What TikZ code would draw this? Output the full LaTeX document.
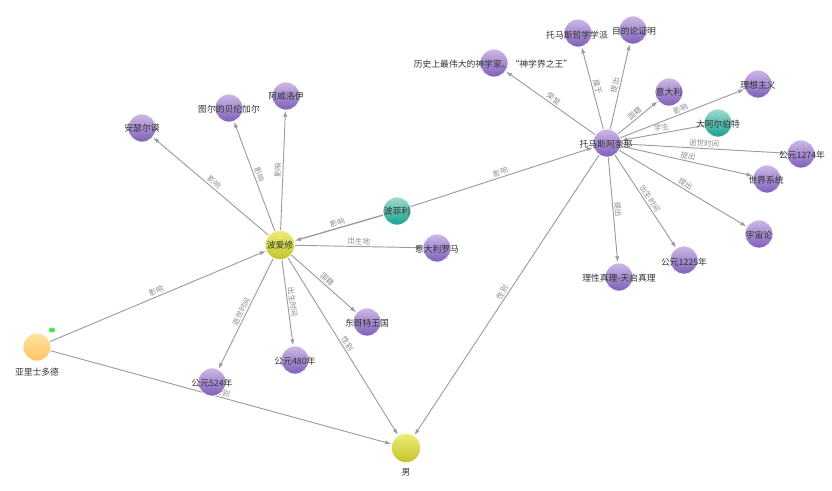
\documentclass[tikz,border=0pt]{standalone}
\usepackage{fontspec}
\setmainfont{Noto Sans CJK SC}
\usetikzlibrary{arrows.meta}
\definecolor{pTop}{HTML}{CDB9E6}
\definecolor{pBot}{HTML}{7E5FB9}
\definecolor{tTop}{HTML}{A2DACE}
\definecolor{tBot}{HTML}{17A08E}
\definecolor{yTop}{HTML}{EEEE78}
\definecolor{yBot}{HTML}{C2C22A}
\definecolor{oTop}{HTML}{FFE3A4}
\definecolor{oBot}{HTML}{FFC462}
\definecolor{eGray}{HTML}{9C9C9C}
\definecolor{lGray}{HTML}{8C8C8C}
\definecolor{txt}{HTML}{333333}
\definecolor{gTag}{HTML}{3FE03F}
\pgfdeclarelayer{edges}
\pgfsetlayers{edges,main}
\begin{document}
\begin{tikzpicture}[x=0.75pt,y=-0.75pt,
  base/.style={circle, minimum size=21pt, inner sep=0pt, draw=white, line width=0.5pt},
  pur/.style={base, top color=pTop, bottom color=pBot},
  teal/.style={base, top color=tTop, bottom color=tBot},
  yel/.style={base, minimum size=22pt, top color=yTop, bottom color=yBot},
  ora/.style={base, top color=oTop, bottom color=oBot},
  ntext/.style={font=\fontsize{6.6pt}{8pt}\selectfont, text=txt, inner sep=0pt},
  rel/.style={draw=eGray, line width=0.7pt, -{Latex[length=4.5pt,width=3.2pt]}, shorten >=0.3pt},
  elab/.style={sloped, above, midway, font=\fontsize{5.6pt}{6.5pt}\selectfont, text=lGray, inner sep=1pt}
]
\useasboundingbox (0,0) rectangle (832,490);

% nodes
\node[ora] (ari) at (37,347) {};
\node[yel] (boe) at (280,245) {};
\node[yel] (man) at (406,448) {};
\node[teal] (por) at (397,211) {};
\node[teal] (alb) at (718,123) {};
\node[pur] (tho) at (607,143) {};
\node[pur] (rom) at (437,248) {};
\node[pur] (ans) at (142,128) {};
\node[pur] (ber) at (229,108) {};
\node[pur] (ave) at (286,96) {};
\node[pur] (ost) at (367,322) {};
\node[pur] (y480) at (295,360) {};
\node[pur] (y524) at (212,382) {};
\node[pur] (hon) at (494,63) {};
\node[pur] (sch) at (578,33) {};
\node[pur] (tel) at (633,30) {};
\node[pur] (ita) at (669,92) {};
\node[pur] (ide) at (758,84) {};
\node[pur] (y1274) at (801,154) {};
\node[pur] (wor) at (767,179) {};
\node[pur] (cos) at (759,234) {};
\node[pur] (y1225) at (684,260) {};
\node[pur] (rea) at (619,277) {};

\node[draw=gTag!60!white, fill=gTag, rounded corners=1pt, minimum width=4.5pt, minimum height=3pt, inner sep=0pt, line width=0.4pt] (tag) at (52,330) {};

% node texts
\node[ntext] (t-ari) at (37,372) {亚里士多德};
\node[ntext] (t-man) at (406,472) {男};
\node[ntext] (t-boe) at (boe) {波爱修};
\node[ntext] (t-por) at (por) {波菲利};
\node[ntext] (t-alb) at (718,124) {大阿尔伯特};
\node[ntext] (t-tho) at (606,144) {托马斯阿奎那};
\node[ntext] (t-rom) at (437,249) {意大利罗马};
\node[ntext] (t-ans) at (ans) {安瑟尔谟};
\node[ntext] (t-ber) at (229,109) {图尔的贝伦加尔};
\node[ntext] (t-ave) at (ave) {阿威洛伊};
\node[ntext] (t-ost) at (367,323) {东哥特王国};
\node[ntext] (t-y480) at (295,361) {公元480年};
\node[ntext] (t-y524) at (212,383) {公元524年};
\node[ntext] (t-hon) at (493,64) {历史上最伟大的神学家、“神学界之王”};
\node[ntext] (t-sch) at (577,35) {托马斯哲学学派};
\node[ntext] (t-tel) at (634,31) {目的论证明};
\node[ntext] (t-ita) at (ita) {意大利};
\node[ntext] (t-ide) at (758,85) {理想主义};
\node[ntext] (t-y1274) at (802,155) {公元1274年};
\node[ntext] (t-wor) at (766,180) {世界系统};
\node[ntext] (t-cos) at (759,235) {宇宙论};
\node[ntext] (t-y1225) at (684,262) {公元1225年};
\node[ntext] (t-rea) at (619,278) {理性真理-天启真理};

% edges
\begin{pgfonlayer}{edges}
\draw[rel] (ari) -- node[elab] {影响} (boe);
\draw[rel] (ari) -- node[elab] {性别} (man);
\draw[rel] (boe) -- node[elab] {影响} (ans);
\draw[rel] (boe) -- node[elab] {影响} (ber);
\draw[rel] (boe) -- node[elab] {影响} (ave);
\draw[rel, line width=1pt] (por) -- node[elab] {影响} (boe);
\draw[rel] (boe) -- node[elab] {出生地} (rom);
\draw[rel] (boe) -- node[elab] {国籍} (ost);
\draw[rel] (boe) -- node[elab] {出生时间} (y480);
\draw[rel] (boe) -- node[elab] {逝世时间} (y524);
\draw[rel] (boe) -- node[elab] {性别} (man);
\draw[rel] (por) -- node[elab] {影响} (tho);
\draw[rel] (tho) -- node[elab] {性别} (man);
\draw[rel] (tho) -- node[elab] {荣誉} (hon);
\draw[rel] (tho) -- node[elab] {属于} (sch);
\draw[rel] (tho) -- node[elab] {提出} (tel);
\draw[rel] (tho) -- node[elab] {国籍} (ita);
\draw[rel] (tho) -- node[elab] {影响} (ide);
\draw[rel] (alb) -- node[elab] {学生} (tho);
\draw[rel] (tho) -- node[elab] {逝世时间} (y1274);
\draw[rel] (tho) -- node[elab] {提出} (wor);
\draw[rel] (tho) -- node[elab] {提出} (cos);
\draw[rel] (tho) -- node[elab] {出生时间} (y1225);
\draw[rel] (tho) -- node[elab] {提出} (rea);
\end{pgfonlayer}
\end{tikzpicture}
\end{document}
